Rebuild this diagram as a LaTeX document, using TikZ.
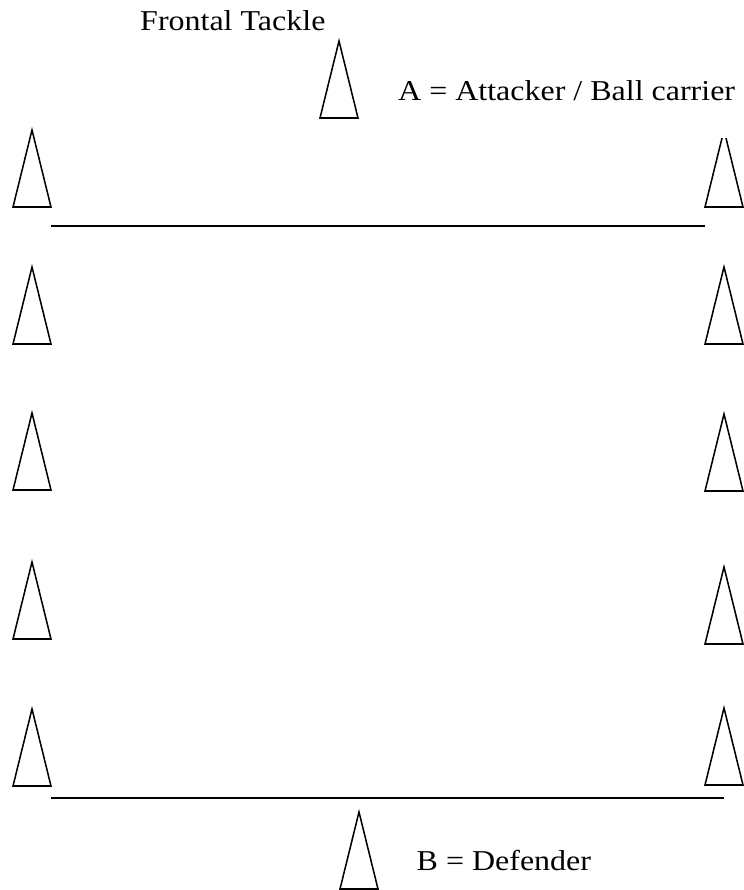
\documentclass[tikz,border=0pt]{standalone}
\usepackage{fontspec}
\setmainfont{Liberation Serif}
\usetikzlibrary{positioning}

\begin{document}
\begin{tikzpicture}[
        x=0.03cm, y=-0.03cm,
        label/.style={font=\fontsize{27.3}{30}\selectfont, inner sep=0pt, anchor=base west, yscale=0.9, transform shape},
        field/.style={line width=1.6pt},
        cone/.pic={\draw[line width=1.3pt, line join=miter] (-19,77) -- (0,0) -- (19,77) -- cycle;}
    ]

    \useasboundingbox (0,0) rectangle (743,890);

    % labels
    \node[label] (title) at (140,30.5) {Frontal Tackle};
    \node[label] (attacker) at (398,100.7) {A = Attacker / Ball carrier};
    \node[label] (defender) at (416.5,870.7) {B = Defender};

    % attacker and defender
    \pic (A) at (339,41) {cone};
    \pic (B) at (359,812) {cone};

    % left side
    \pic (L1) at (32,130) {cone};
    \pic (L2) at (32,267) {cone};
    \pic (L3) at (32,413) {cone};
    \pic (L4) at (32,562) {cone};
    \pic (L5) at (32,709) {cone};

    % right side
    \begin{scope}
        \clip (690,138) rectangle (760,220);
        \pic (R1) at (724,130) {cone};
    \end{scope}
    \pic (R2) at (724,267) {cone};
    \pic (R3) at (724,414) {cone};
    \pic (R4) at (724,567) {cone};
    \pic (R5) at (724,708) {cone};

    % lines
    \coordinate (topL) at (51,226);
    \coordinate (topR) at (705,226);
    \coordinate (botL) at (51,798);
    \coordinate (botR) at (724,798);

    \draw[field] (topL) -- (topR);
    \draw[field] (botL) -- (botR);
    \end{tikzpicture}
\end{document}
